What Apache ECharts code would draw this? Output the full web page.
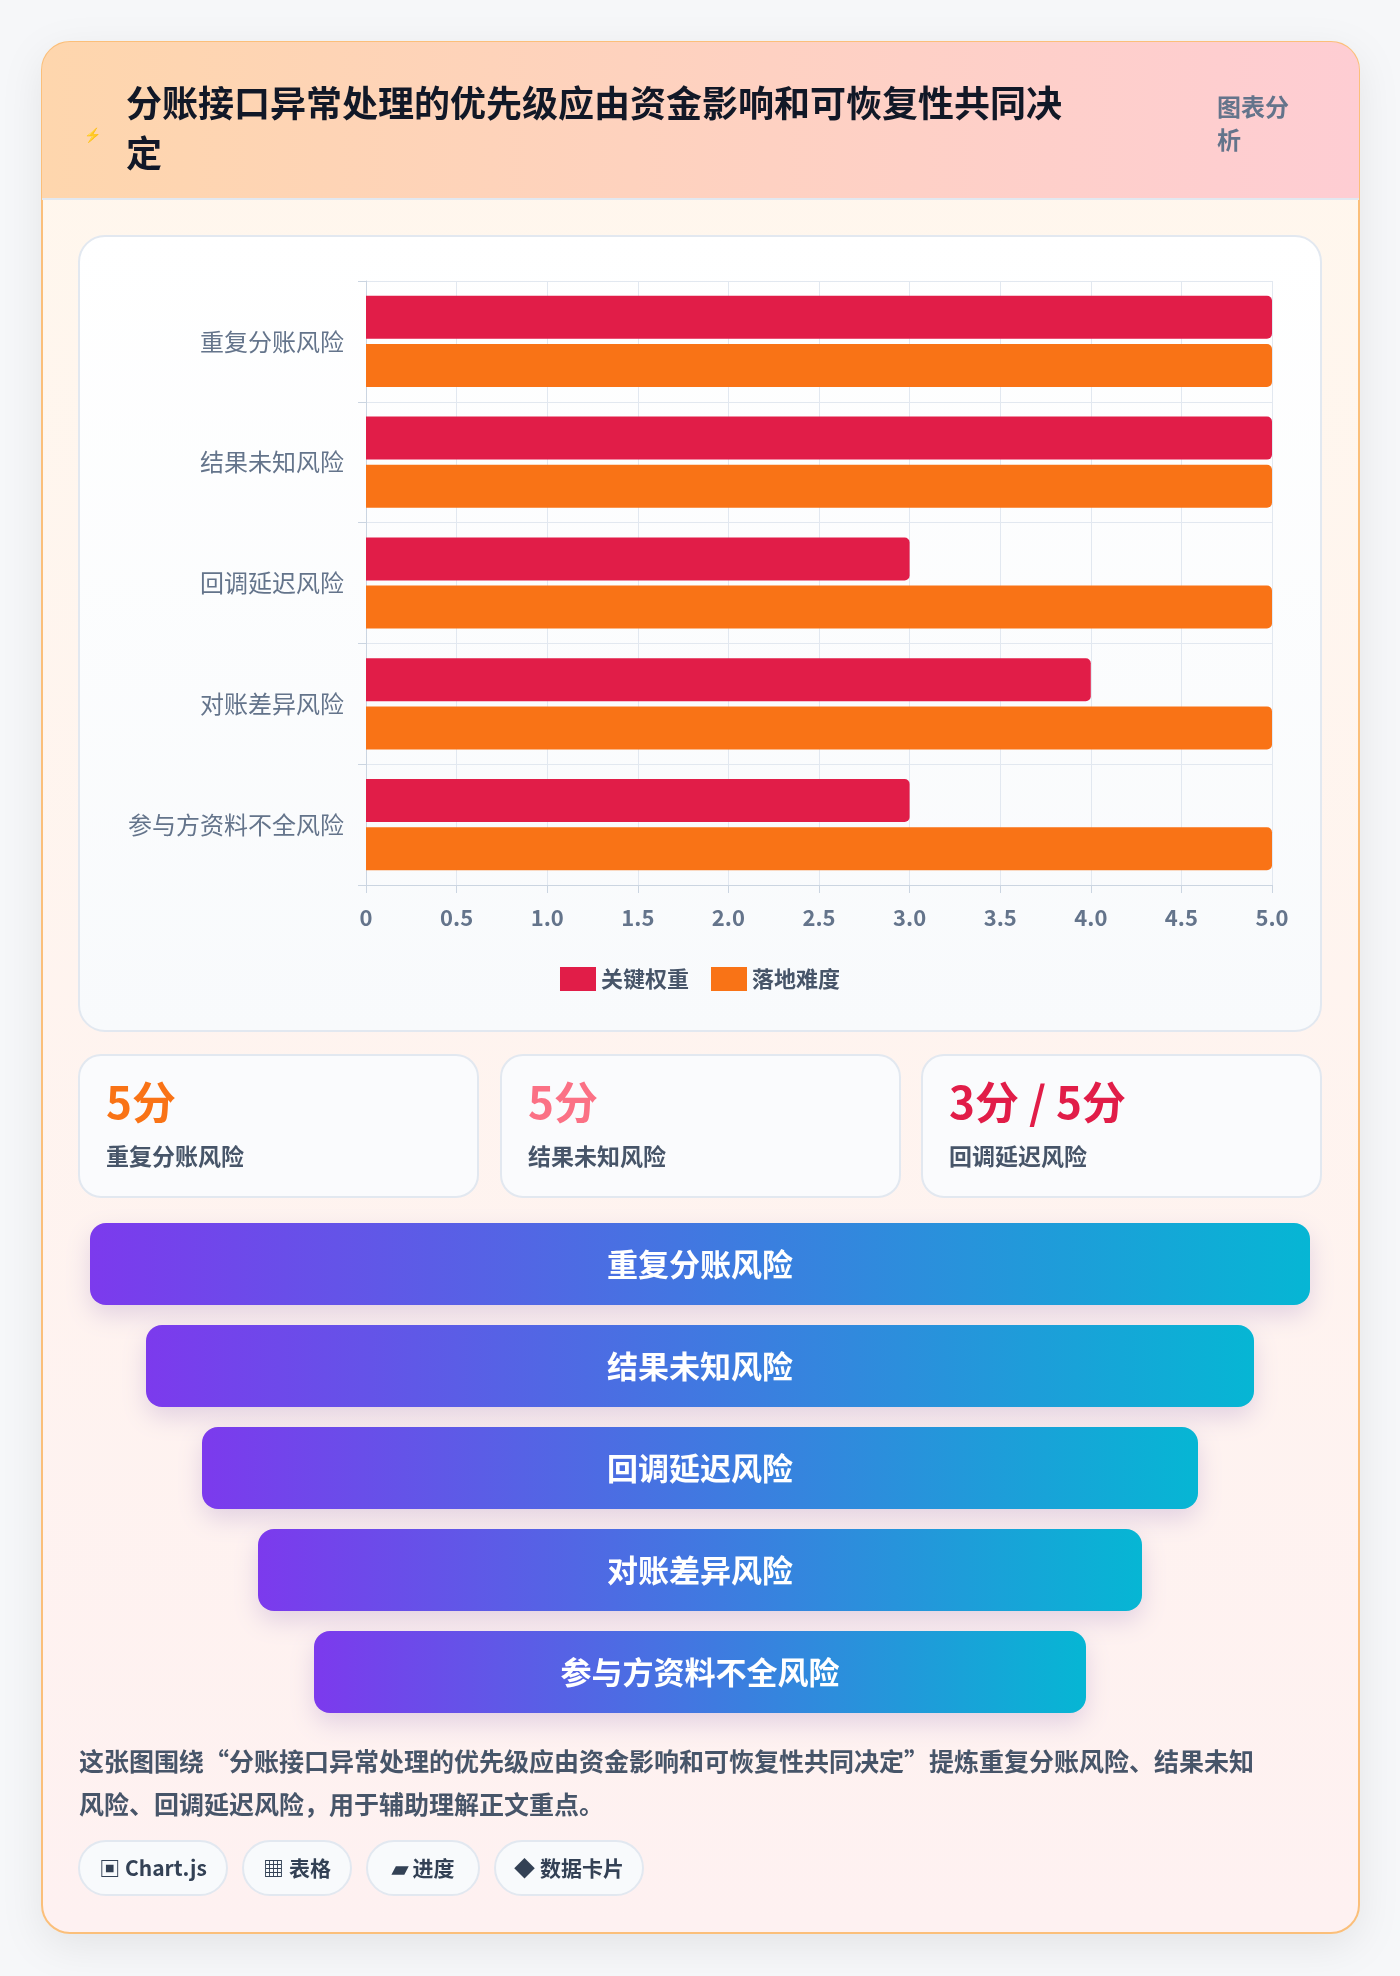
<!DOCTYPE html>
<html><head><meta charset="utf-8">
<script src="https://cdn.jsdelivr.net/npm/echarts@6/dist/echarts.min.js"></script>
<style>html,body{margin:0;padding:0;background:#f6f7f9;}#c{width:1400px;height:1976px;}</style>
</head><body><div id="c"></div>
<script>
const title = '分账接口异常处理的优先级应由资金影响和可恢复性共同决定';
const categories = ['重复分账风险','结果未知风险','回调延迟风险','对账差异风险','参与方资料不全风险'];
const keyWeight = [5,5,3,4,3];
const difficulty = [5,5,5,5,5];
const seriesNames = ['关键权重','落地难度'];
const statValues = ['5分','5分','3分 / 5分'];
const statLabels = ['重复分账风险','结果未知风险','回调延迟风险'];
const funnelLabels = ['重复分账风险','结果未知风险','回调延迟风险','对账差异风险','参与方资料不全风险'];
const summary = ['这张图围绕“分账接口异常处理的优先级应由资金影响和可恢复性共同决定”提炼重复分账风险、结果未知','风险、回调延迟风险，用于辅助理解正文重点。'];
const tags = ['▣ Chart.js','▦ 表格','▰ 进度','◆ 数据卡片'];

const F = '"Noto Sans CJK SC","Noto Sans",sans-serif';
const chart = echarts.init(document.getElementById('c'));
const g = [];
// card
g.push({type:'rect',z:-20,shape:{x:42,y:42,width:1317,height:1891,r:28},
  style:{fill:new echarts.graphic.LinearGradient(0,0,0,1,[{offset:0,color:'#fff7ed'},{offset:1,color:'#fef1f1'}]),stroke:'#fbbf7a',lineWidth:2,shadowBlur:40,shadowColor:'rgba(0,0,0,0.08)',shadowOffsetY:12}});
g.push({type:'rect',z:-19,shape:{x:42,y:42,width:1317,height:157,r:[28,28,0,0]},
  style:{fill:new echarts.graphic.LinearGradient(0,0,1,0,[{offset:0,color:'#fed6ad'},{offset:1,color:'#fecdd3'}])}});
g.push({type:'rect',z:-18,shape:{x:42,y:198,width:1317,height:2},style:{fill:'#e2e8f0'}});
g.push({type:'text',style:{x:84,y:128,text:'⚡',fill:'#3b82f6',font:'14px '+F}});
g.push({type:'text',style:{x:126,y:78,text:'分账接口异常处理的优先级应由资金影响和可恢复性共同决\n定',fill:'#111827',font:'bold 36px '+F,lineHeight:50}});
g.push({type:'text',style:{x:1217,y:90,text:'图表分\n析',fill:'#64748b',font:'bold 24px '+F,lineHeight:33}});
// chart panel
g.push({type:'rect',z:-10,shape:{x:79,y:236,width:1242,height:795,r:26},
  style:{fill:new echarts.graphic.LinearGradient(0,0,0,1,[{offset:0,color:'#ffffff'},{offset:1,color:'#f8fafc'}]),stroke:'#e2e8f0',lineWidth:2}});
// stat cards
const statColors=['#f97316','#fb7185','#e11d48'];
const statX=[79,501,922];
statValues.forEach((v,i)=>{
  g.push({type:'rect',z:-10,shape:{x:statX[i],y:1055,width:399,height:142,r:22},style:{fill:'#fafbfd',stroke:'#e2e8f0',lineWidth:2}});
  g.push({type:'text',style:{x:statX[i]+27,y:1080,text:v,fill:statColors[i],font:'bold 44px '+F}});
  g.push({type:'text',style:{x:statX[i]+27,y:1145,text:statLabels[i],fill:'#475569',font:'bold 23px '+F}});
});
// funnel
funnelLabels.forEach((t,i)=>{
  const x=90+i*56, w=1220-i*112, y=1223+i*102;
  g.push({type:'rect',shape:{x:x,y:y,width:w,height:82,r:16},
    style:{fill:new echarts.graphic.LinearGradient(0,0,1,0,[{offset:0,color:'#7c3aed'},{offset:1,color:'#06b6d4'}]),shadowBlur:24,shadowColor:'rgba(100,60,160,0.18)',shadowOffsetY:10}});
  g.push({type:'text',z:5,style:{x:x+w/2,y:y+41,text:t,fill:'#ffffff',font:'bold 31px '+F,align:'center',verticalAlign:'middle'}});
});
// summary
g.push({type:'text',style:{x:79,y:1740,text:summary.join('\n'),fill:'#475569',font:'bold 25px '+F,lineHeight:43}});
// tags
let tx=79;
const tagW=[148,108,112,148];
tags.forEach((t,i)=>{
  g.push({type:'rect',shape:{x:tx,y:1841,width:tagW[i],height:54,r:27},style:{fill:'#f8fafc',stroke:'#e2e8f0',lineWidth:2}});
  g.push({type:'text',style:{x:tx+tagW[i]/2,y:1868,text:t,fill:'#334155',font:'bold 21px '+F,align:'center',verticalAlign:'middle'}});
  tx+=tagW[i]+16;
});

chart.setOption({
  animation:false,
  textStyle:{fontFamily:F},
  graphic:g,
  grid:{left:366,top:281,width:906,height:604},
  legend:{data:seriesNames,left:'center',top:962,itemWidth:36,itemHeight:24,itemGap:22,icon:'rect',
    textStyle:{color:'#475569',fontSize:22,fontWeight:'bold',fontFamily:F}},
  xAxis:{type:'value',min:0,max:5,interval:0.5,
    axisLabel:{color:'#64748b',fontSize:22,fontWeight:'bold',margin:22,formatter:v=>v===0?'0':v.toFixed(1)},
    axisLine:{show:true,lineStyle:{color:'#cbd5e1'}},axisTick:{show:true,lineStyle:{color:'#cbd5e1'},length:8},
    splitLine:{show:true,lineStyle:{color:'#e2e8f0'}}},
  yAxis:{type:'category',data:categories,inverse:true,
    axisLabel:{color:'#64748b',fontSize:24,margin:22},
    axisLine:{lineStyle:{color:'#cbd5e1'}},axisTick:{show:true,lineStyle:{color:'#cbd5e1'},length:8},
    splitLine:{show:true,lineStyle:{color:'#e2e8f0'}}},
  series:[
    {name:seriesNames[0],type:'bar',data:keyWeight,barWidth:43,barGap:'12%',itemStyle:{color:'#e11d48',borderRadius:[0,5,5,0]}},
    {name:seriesNames[1],type:'bar',data:difficulty,barWidth:43,itemStyle:{color:'#f97316',borderRadius:[0,5,5,0]}}
  ]
});
</script></body></html>
